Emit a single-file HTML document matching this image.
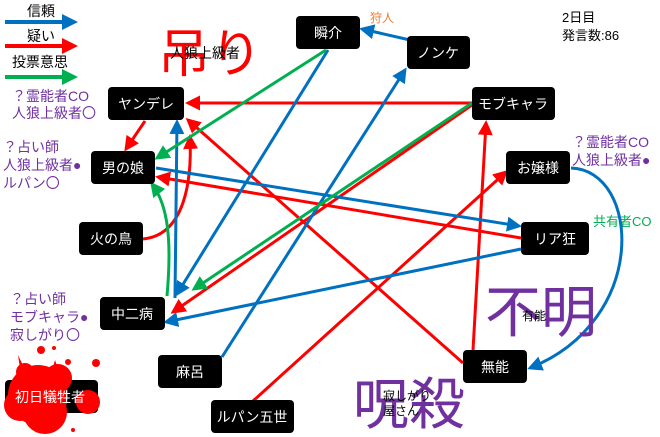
<!DOCTYPE html>
<html><head><meta charset="utf-8"><style>
body{margin:0;background:#fff}
svg{display:block;font-family:"Liberation Sans","Noto Sans CJK JP",sans-serif}
</style></head><body>
<svg width="660" height="437" viewBox="0 0 660 437" xmlns="http://www.w3.org/2000/svg">
<defs>
<marker id="b" markerWidth="5" markerHeight="5" refX="4" refY="2.5" orient="auto" markerUnits="strokeWidth"><path d="M0,0L5,2.5L0,5z" fill="#0070c0"/></marker>
<marker id="r" markerWidth="5" markerHeight="5" refX="4" refY="2.5" orient="auto" markerUnits="strokeWidth"><path d="M0,0L5,2.5L0,5z" fill="#ff0000"/></marker>
<marker id="g" markerWidth="5" markerHeight="5" refX="4" refY="2.5" orient="auto" markerUnits="strokeWidth"><path d="M0,0L5,2.5L0,5z" fill="#00b050"/></marker>
</defs>
<!-- legend -->
<g font-size="14" fill="#000">
<text x="27" y="16">信頼</text><text x="27" y="41">疑い</text><text x="12" y="67">投票意思</text>
</g>
<line x1="5" y1="22" x2="65" y2="22" stroke="#0070c0" stroke-width="4"/><path d="M62,14L78,22L62,30z" fill="#0070c0"/>
<line x1="5" y1="46" x2="65" y2="46" stroke="#ff0000" stroke-width="4"/><path d="M62,38L78,46L62,54z" fill="#ff0000"/>
<line x1="5" y1="77" x2="65" y2="77" stroke="#00b050" stroke-width="4"/><path d="M62,69L78,77L62,85z" fill="#00b050"/>

<text x="158" y="72" font-size="52" fill="#ff0000">吊り</text>
<text x="170" y="58" font-size="14" fill="#000">人狼上級者</text>
<text x="370" y="22" font-size="12" fill="#ed7d31">狩人</text>
<text x="562" y="22" font-size="13">2日目</text>
<text x="562" y="40" font-size="13">発言数:86</text>

<g fill="#7030a0" font-size="14">
<text x="12" y="101">？霊能者CO</text><text x="12" y="118">人狼上級者〇</text>
<text x="3" y="152">？占い師</text><text x="3" y="170">人狼上級者●</text><text x="3" y="188">ルパン〇</text>
<text x="10" y="304">？占い師</text><text x="10" y="322">モブキャラ●</text><text x="10" y="340">寂しがり〇</text>
<text x="572" y="147">？霊能者CO</text><text x="572" y="165">人狼上級者●</text>
</g>
<text x="593" y="226" font-size="13" fill="#00b050">共有者CO</text>

<!-- edges -->
<g fill="none" stroke-width="3">
<line x1="472" y1="103" x2="188" y2="103" stroke="#ff0000" marker-end="url(#r)"/>
<line x1="145" y1="121" x2="126" y2="149" stroke="#ff0000" marker-end="url(#r)"/>
<path d="M143,239 C185,235 192,180 190,137" stroke="#ff0000" marker-end="url(#r)"/>
<line x1="463" y1="363" x2="188" y2="120" stroke="#ff0000" marker-end="url(#r)"/>
<line x1="521" y1="238" x2="158" y2="177" stroke="#ff0000" marker-end="url(#r)"/>
<line x1="472" y1="105" x2="173" y2="312" stroke="#ff0000" marker-end="url(#r)"/>
<line x1="473" y1="350" x2="486" y2="123" stroke="#ff0000" marker-end="url(#r)"/>
<line x1="253" y1="401" x2="506" y2="172" stroke="#ff0000" marker-end="url(#r)"/>
<line x1="410" y1="40" x2="362" y2="29" stroke="#0070c0" marker-end="url(#b)"/>
<line x1="328" y1="50" x2="177" y2="294" stroke="#0070c0" marker-end="url(#b)"/>
<line x1="222" y1="357" x2="405" y2="70" stroke="#0070c0" marker-end="url(#b)"/>
<line x1="175" y1="298" x2="177" y2="122" stroke="#0070c0" marker-end="url(#b)"/>
<line x1="156" y1="168" x2="519" y2="226" stroke="#0070c0" marker-end="url(#b)"/>
<line x1="521" y1="249" x2="166" y2="322" stroke="#0070c0" marker-end="url(#b)"/>
<path d="M571,168 C640,170 650,320 530,368" stroke="#0070c0" marker-end="url(#b)"/>
<line x1="326" y1="50" x2="157" y2="158" stroke="#00b050" marker-end="url(#g)"/>
<line x1="472" y1="103" x2="194" y2="289" stroke="#00b050" marker-end="url(#g)"/>
<path d="M167,296 C172,240 168,205 152,184" stroke="#00b050" marker-end="url(#g)"/>
</g>

<!-- nodes -->
<g fill="#000">
<rect x="296" y="16" width="64" height="33" rx="4"/>
<rect x="407" y="36" width="63" height="33" rx="4"/>
<rect x="472" y="87" width="83" height="33" rx="4"/>
<rect x="108" y="87" width="76" height="33" rx="4"/>
<rect x="91" y="151" width="64" height="33" rx="4"/>
<rect x="506" y="151" width="64" height="33" rx="4"/>
<rect x="79" y="222" width="64" height="33" rx="4"/>
<rect x="521" y="222" width="68" height="33" rx="4"/>
<rect x="100" y="297" width="65" height="33" rx="4"/>
<rect x="158" y="355" width="64" height="33" rx="4"/>
<rect x="463" y="350" width="64" height="33" rx="4"/>
<rect x="211" y="400" width="83" height="33" rx="4"/>
<rect x="5" y="380" width="93" height="33" rx="4"/>
</g>
<!-- blood -->
<g fill="#ff0000">
<circle cx="38" cy="395" r="30"/><circle cx="20" cy="405" r="16"/><circle cx="45" cy="412" r="22"/>
<circle cx="58" cy="378" r="14"/><circle cx="88" cy="402" r="12"/><circle cx="25" cy="372" r="9"/>
<path d="M18,355 L30,380 L22,382z"/><path d="M55,360 L62,380 L50,378z"/>
<circle cx="41" cy="350" r="4"/><circle cx="54" cy="348" r="2"/><circle cx="68" cy="362" r="3"/><circle cx="96" cy="363" r="4"/><circle cx="73" cy="430" r="2"/>
</g>
<g fill="#fff" font-size="14" text-anchor="middle" dominant-baseline="central">
<text x="328" y="33">瞬介</text><text x="438" y="53">ノンケ</text><text x="513" y="104">モブキャラ</text>
<text x="146" y="104">ヤンデレ</text><text x="123" y="168">男の娘</text><text x="538" y="168">お嬢様</text>
<text x="111" y="239">火の鳥</text><text x="555" y="239">リア狂</text><text x="132" y="314">中二病</text>
<text x="190" y="372">麻呂</text><text x="495" y="367">無能</text><text x="252" y="417">ルパン五世</text>
<text x="50" y="397">初日犠牲者</text>
</g>

<text x="485" y="332" font-size="56" fill="#7030a0">不明</text>
<text x="522" y="320" font-size="12" fill="#000">有能</text>
<text x="353" y="424" font-size="56" fill="#7030a0">呪殺</text>
<text x="383" y="400" font-size="12" fill="#000">寂しがり</text>
<text x="383" y="415" font-size="12" fill="#000">屋さん</text>
</svg>
</body></html>
